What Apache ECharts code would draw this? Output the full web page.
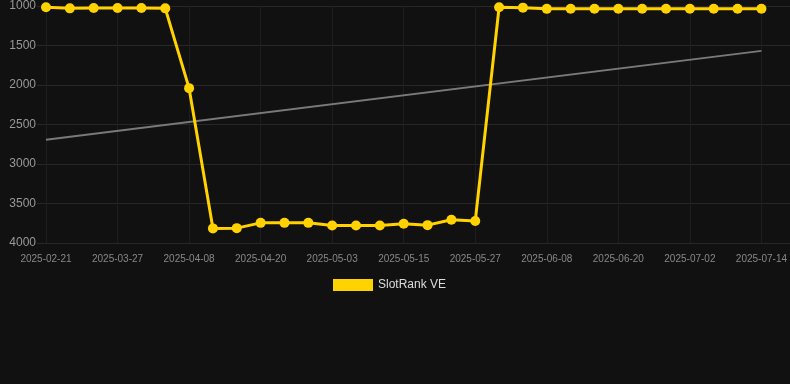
<!DOCTYPE html>
<html>
<head>
<meta charset="utf-8">
<style>
html,body{margin:0;padding:0;background:#111111;}
#chart{width:790px;height:384px;}
</style>
<script src="https://cdn.jsdelivr.net/npm/echarts@6/dist/echarts.min.js"></script>
</head>
<body>
<div id="chart"></div>
<script>
var categories = ['2025-02-21','2025-03-03','2025-03-15','2025-03-27','2025-03-31','2025-04-04','2025-04-08','2025-04-12','2025-04-16','2025-04-20','2025-04-24','2025-04-29','2025-05-03','2025-05-07','2025-05-11','2025-05-15','2025-05-19','2025-05-23','2025-05-27','2025-05-31','2025-06-04','2025-06-08','2025-06-12','2025-06-16','2025-06-20','2025-06-24','2025-06-28','2025-07-02','2025-07-06','2025-07-10','2025-07-14'];
var rankValues = [1015,1030,1025,1025,1025,1030,2040,3815,3812,3745,3745,3745,3778,3778,3778,3757,3774,3706,3722,1016,1021,1036,1035,1035,1035,1035,1035,1035,1035,1035,1035];
var trendIndex = [0, 30];
var trendValues = [2692, 1568];
var yTicks = [1000, 1500, 2000, 2500, 3000, 3500, 4000];

var font = 'Liberation Sans, Arial, sans-serif';
var chart = echarts.init(document.getElementById('chart'));
chart.setOption({
  backgroundColor: '#111111',
  animation: false,
  textStyle: {fontFamily: font},
  legend: {
    data: ['SlotRank VE'],
    left: 328,
    top: 274,
    icon: 'rect',
    itemWidth: 40,
    itemHeight: 12,
    itemGap: 10,
    textStyle: {color: '#dddddd', fontSize: 12, fontFamily: font}
  },
  grid: [
    {left: 46, right: 28, top: 6, bottom: 141},
    {left: 37, right: 0, top: 6, bottom: 141}
  ],
  xAxis: [
    {
      type: 'category', gridIndex: 0, data: categories, boundaryGap: false,
      axisLine: {show: false}, axisTick: {show: false},
      axisLabel: {interval: 2, color: '#888888', fontSize: 10, margin: 11, fontFamily: font},
      splitLine: {show: true, interval: 2, lineStyle: {color: '#1e1e1e', width: 1}}
    },
    {
      type: 'value', gridIndex: 1, min: 0, max: 1, show: false
    }
  ],
  yAxis: [
    {
      type: 'value', gridIndex: 0, inverse: true, min: yTicks[0], max: yTicks[yTicks.length-1], interval: 500,
      show: false, splitLine: {show: false}
    },
    {
      type: 'value', gridIndex: 1, inverse: true, min: yTicks[0], max: yTicks[yTicks.length-1], interval: 500,
      axisLine: {show: false}, axisTick: {show: false},
      axisLabel: {color: '#999999', fontSize: 12, margin: 1, fontFamily: font,
        formatter: function (v) { return String(v); }},
      splitLine: {show: true, lineStyle: {color: '#272727', width: 1}}
    }
  ],
  series: [
    {
      name: 'Trend', type: 'line', xAxisIndex: 0, yAxisIndex: 0,
      data: trendIndex.map(function (x, i) { return [x, trendValues[i]]; }),
      symbol: 'none', silent: true,
      lineStyle: {color: '#7a7a7a', width: 2}, z: 1
    },
    {
      name: 'SlotRank VE', type: 'line', xAxisIndex: 0, yAxisIndex: 0,
      data: rankValues,
      symbol: 'circle', symbolSize: 10,
      itemStyle: {color: '#FFD200'},
      lineStyle: {color: '#FFD200', width: 3}, z: 3
    }
  ]
});
</script>
</body>
</html>
